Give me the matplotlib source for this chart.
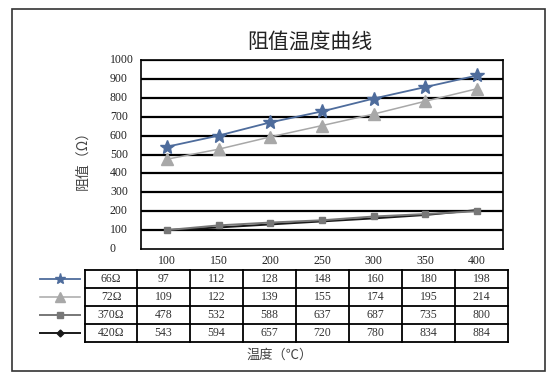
import matplotlib
matplotlib.use("Agg")
import matplotlib.pyplot as plt
from matplotlib.lines import Line2D
from matplotlib.patches import Rectangle

# ---- data ----
temps = [100, 150, 200, 250, 300, 350, 400]
yticks = [0, 100, 200, 300, 400, 500, 600, 700, 800, 900, 1000]
series_names = ["66Ω", "72Ω", "370Ω", "420Ω"]
table_66 = [97, 112, 128, 148, 160, 180, 198]
table_72 = [109, 122, 139, 155, 174, 195, 214]
table_370 = [478, 532, 588, 637, 687, 735, 800]
table_420 = [543, 594, 657, 720, 780, 834, 884]
# values as drawn in the chart area
plot_star = [541, 600, 670, 728, 796, 857, 918]
plot_tri = [475, 528, 593, 653, 714, 782, 848]
plot_sq = [100, 125, 140, 152, 172, 185, 200]
plot_blk = [100, 114, 130, 146, 162, 180, 206]

title = "阻值温度曲线"
ylabel = "阻值（Ω）"
xlabel = "温度（℃）"

SERIF = ["Liberation Serif", "DejaVu Serif", "Noto Sans CJK SC"]
CJK = ["Noto Sans CJK SC", "DejaVu Sans"]

W, H = 559, 380
fig = plt.figure(figsize=(W / 100, H / 100), dpi=100)
fig.patch.set_facecolor("white")

def fx(px):
    return px / W

def fy(py):
    return 1 - py / H

# outer border
fig.patches.append(Rectangle((fx(12), fy(371)), fx(545) - fx(12), fy(9) - fy(371),
                             transform=fig.transFigure, fill=False, lw=1.2,
                             edgecolor="#333333"))

styles = [
    dict(color="#4e6c9c", marker="*", ms=10, lw=1.3, mfc="#4e6c9c", mec="#4e6c9c"),
    dict(color="#a8a8a8", marker="^", ms=8, lw=1.1, mfc="#a8a8a8", mec="#a8a8a8"),
    dict(color="#777777", marker="s", ms=5, lw=1.4, mfc="#777777", mec="#777777"),
    dict(color="#1a1a1a", marker="D", ms=3.5, lw=1.4, mfc="#1a1a1a", mec="#1a1a1a"),
]
legend_ms = [8, 7, 4.5, 3.5]

# main axes
ax = fig.add_axes([fx(141), fy(249), fx(503) - fx(141), fy(60) - fy(249)])
ax.set_xlim(-0.5, len(temps) - 0.5)
ax.set_ylim(0, 1000)
for v in yticks[1:]:
    ax.axhline(v, color="black", lw=1.6, zorder=1)
for s in ax.spines.values():
    s.set_color("black")
    s.set_linewidth(1.2)
ax.set_xticks([])
ax.set_yticks([])

xs = list(range(len(temps)))
ax.plot(xs, plot_blk, color=styles[3]["color"], lw=1.4, zorder=3)
ax.plot(xs, plot_sq, **styles[2], zorder=4)
ax.plot(xs, plot_tri, **styles[1], zorder=4)
ax.plot(xs, plot_star, **styles[0], zorder=5)

# y tick labels (left aligned)
for v in yticks:
    ax.text(fx(110), ax.transData.transform((0, v))[1] / fig.bbox.height,
            str(v), transform=fig.transFigure, ha="left", va="center",
            fontsize=8.5, family=SERIF, color="#222222")

# x tick labels
for i, t in enumerate(temps):
    ax.text(i, -0.03, str(t), transform=ax.get_xaxis_transform(),
            ha="center", va="top", fontsize=8.5, family=SERIF, color="#222222")

# title and axis labels
fig.text(fx(310), fy(42), title, ha="center", va="center", fontsize=15,
         family=CJK, color="#222222")
fig.text(fx(82), fy(157), ylabel, ha="center", va="center", rotation=90,
         fontsize=10, family=CJK, color="#444444")
fig.text(fx(280), fy(355), xlabel, ha="center", va="center", fontsize=9.5,
         family=CJK, color="#444444")

# data table
tab_left, tab_lab, tab_right = 85, 137, 508
tab_top, tab_bot = 270, 342
rows = [table_66, table_72, table_370, table_420]
nrow = len(rows)
rh = (tab_bot - tab_top) / nrow
cw = (tab_right - tab_lab) / len(temps)
for r in range(nrow + 1):
    y = fy(tab_top + r * rh)
    fig.add_artist(Line2D([fx(tab_left), fx(tab_right)], [y, y], color="black", lw=1.3))
for xb in [tab_left, tab_lab] + [tab_lab + (c + 1) * cw for c in range(len(temps))]:
    fig.add_artist(Line2D([fx(xb), fx(xb)], [fy(tab_top), fy(tab_bot)], color="black", lw=1.3))
for r, (name, vals) in enumerate(zip(series_names, rows)):
    yc = fy(tab_top + (r + 0.5) * rh)
    fig.text(fx((tab_left + tab_lab) / 2), yc, name, ha="center", va="center",
             fontsize=8.5, family=SERIF, color="#333333")
    for c, v in enumerate(vals):
        fig.text(fx(tab_lab + (c + 0.5) * cw), yc, str(v), ha="center", va="center",
                 fontsize=8.5, family=SERIF, color="#333333")
    st = styles[r]
    fig.add_artist(Line2D([fx(40), fx(80)], [yc, yc], color=st["color"], lw=st["lw"]))
    fig.add_artist(Line2D([fx(60)], [yc], color=st["color"], marker=st["marker"],
                          ms=legend_ms[r], mfc=st["mfc"], mec=st["mec"], lw=0))

fig.savefig("out.png", dpi=100, facecolor="white")
